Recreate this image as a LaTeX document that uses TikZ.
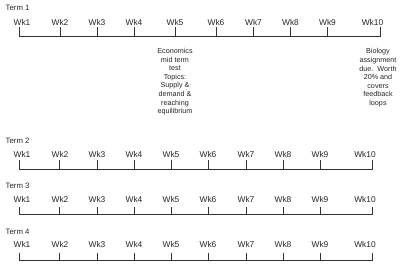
\documentclass[tikz,border=0pt]{standalone}
\usepackage{fontspec}
\setmainfont{Liberation Sans}
\begin{document}
\begin{tikzpicture}[x=1pt,y=-1pt,
  wk/.style={inner sep=0pt,font=\fontsize{8.4}{10}\selectfont,text=black!85},
  term/.style={inner sep=0pt,anchor=west,font=\fontsize{7.8}{9}\selectfont,text=black!85},
  note/.style={inner sep=0pt,anchor=north,align=center,font=\fontsize{7.2}{8.6}\selectfont,text=black!85},
  axis/.style={draw=black!80,line width=0.8pt}]
\useasboundingbox (0,0) rectangle (400,265);
% Term 1
\node[term] (t1) at (5.5,7.5) {Term 1};
\foreach \i/\tx/\lx in {1/19/22,2/60/60,3/97/97,4/134/134,5/175/175,6/216/216,7/253/253.5,8/290/290.5,9/327/327.5,10/380/372.5}{
  \node[wk] (a\i) at (\lx,22) {Wk\i};
  \coordinate (ab\i) at (\tx,36.5);
  \coordinate (at\i) at (\tx,27);
}
\draw[axis] (at1) -- (ab1) -- (ab10) -- (at10);
\foreach \i in {2,...,9}{\draw[axis] (at\i) -- (ab\i);}
\node[note] (econ) at (175,48) {Economics\\mid term\\test\\Topics:\\Supply \&\\demand \&\\reaching\\equilibrium};
\node[note] (bio) at (378,48.5) {Biology\\assignment\\due.\ \ Worth\\20\% and\\covers\\feedback\\loops};
% Terms 2-4
\foreach \r/\ty/\ly/\by/\tt in {2/140.5/154.5/169/160,3/186/199.7/214.3/206.5,4/231.5/244.7/260.3/252.5}{
  \node[term] (t\r) at (5.5,\ty) {Term \r};
  \foreach \i/\tx/\lx in {1/19/22,2/59/60,3/97/97,4/134/134,5/171/171,6/208/208,7/246/246,8/283/283,9/320/320,10/372/365}{
    \node[wk] (w\r-\i) at (\lx,\ly) {Wk\i};
    \coordinate (b\r-\i) at (\tx,\by);
    \coordinate (u\r-\i) at (\tx,\tt);
  }
  \draw[axis] (u\r-1) -- (b\r-1) -- (b\r-10) -- (u\r-10);
  \foreach \i in {2,...,9}{\draw[axis] (u\r-\i) -- (b\r-\i);}
}
\end{tikzpicture}
\end{document}
